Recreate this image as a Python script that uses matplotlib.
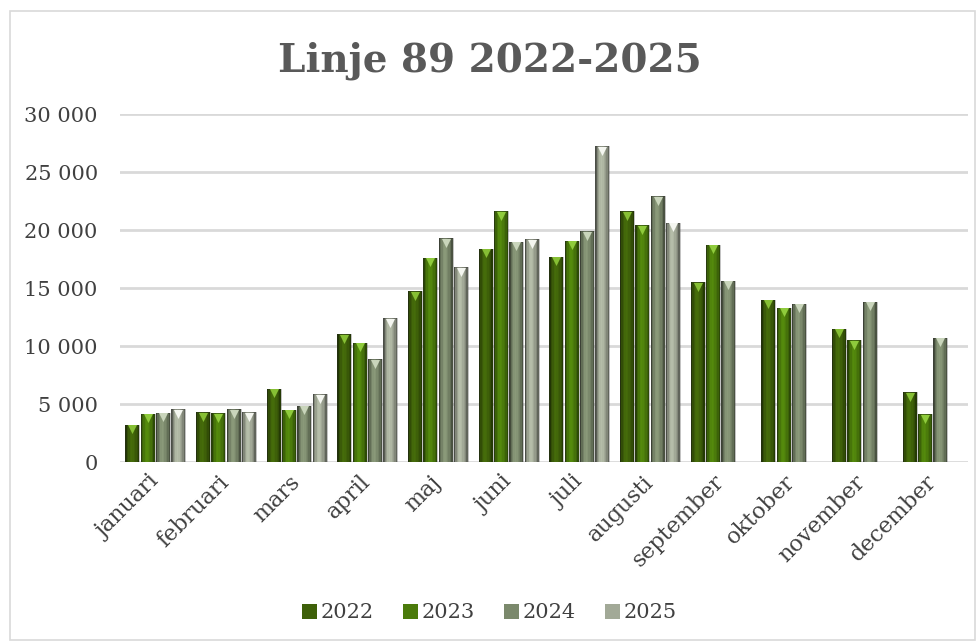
import matplotlib.pyplot as plt
import numpy as np
from matplotlib.patches import Patch, Rectangle
from matplotlib.ticker import FuncFormatter
import matplotlib.colors as mcolors

months = ['januari', 'februari', 'mars', 'april', 'maj', 'juni', 'juli',
          'augusti', 'september', 'oktober', 'november', 'december']
years = ['2022', '2023', '2024', '2025']

v2022 = [3200, 4300, 6300, 11000, 14700, 18400, 17700, 21600, 15500, 14000, 11500, 6000]
v2023 = [4150, 4200, 4500, 10300, 17600, 21600, 19050, 20400, 18700, 13300, 10500, 4100]
v2024 = [4250, 4550, 4850, 8850, 19300, 19000, 19900, 22900, 15600, 13650, 13800, 10700]
v2025 = [4550, 4300, 5850, 12400, 16800, 19200, 27200, 20600, np.nan, np.nan, np.nan, np.nan]
series = [v2022, v2023, v2024, v2025]

base_colors = ['#3e6009', '#4b7b0b', '#7b896c', '#a2a997']
tip_colors = ['#86bf34', '#8fcb3c', '#c9d5bb', '#f4f6f0']
text_col = '#404040'

plt.rcParams['font.family'] = ['DejaVu Serif']

fig = plt.figure(figsize=(9.79, 6.43), dpi=100)
fig.patches.append(Rectangle((10 / 979, 3 / 643), 965 / 979, 629 / 643, transform=fig.transFigure,
                             fill=False, edgecolor='#d9d9d9', linewidth=1.2))
ax = fig.add_axes([120 / 979, 1 - 462 / 643, 848 / 979, 348 / 643])

x = np.arange(len(months))
slot = 0.216
bw = 0.198
# shading profile across each bar, left to right
shade = [0.55, 0.8, 0.95, 1.08, 1.12, 1.08, 1.0, 0.92, 0.8, 0.6]
nstrip = len(shade)
for i, (vals, col) in enumerate(zip(series, base_colors)):
    vals = np.array(vals, dtype=float)
    xc = x + (i - 1.5) * slot
    rgb = np.array(mcolors.to_rgb(col))
    sw = bw / nstrip
    for k, f in enumerate(shade):
        c = np.clip(rgb * f, 0, 1)
        ax.bar(xc - bw / 2 + (k + 0.5) * sw, vals, width=sw * 1.02, color=c, linewidth=0, zorder=3)
    ax.bar(xc, vals, width=bw, fill=False, edgecolor='#2a2a2a', linewidth=0.4, alpha=0.5, zorder=4)
    ok = ~np.isnan(vals)
    ax.scatter(xc[ok], vals[ok] - 380, marker='v', s=42, color=tip_colors[i], linewidths=0, zorder=5)

ax.set_xlim(-0.5, 11.5)
ax.set_ylim(0, 30000)
ax.set_yticks(np.arange(0, 30001, 5000))
ax.yaxis.set_major_formatter(FuncFormatter(lambda v, p: f'{int(v):,}'.replace(',', ' ')))
ax.grid(axis='y', color='#d9d9d9', linewidth=2, zorder=0)
ax.set_axisbelow(True)
for s in ax.spines.values():
    s.set_visible(False)
ax.tick_params(axis='both', length=0, labelsize=15, labelcolor=text_col)
ax.tick_params(axis='y', pad=16)
ax.tick_params(axis='x', pad=12, labelsize=16)
ax.set_xticks(x)
ax.set_xticklabels(months, rotation=45, ha='right', va='center', rotation_mode='anchor')

fig.text(0.5, 0.905, 'Linje 89 2022-2025', ha='center', va='center', fontsize=28,
         fontweight='bold', color='#595959')

handles = [Patch(facecolor=c, edgecolor='none') for c in base_colors]
fig.legend(handles, years, loc='center', bbox_to_anchor=(0.5, 1 - 613 / 643), ncol=4,
           frameon=False, fontsize=15, handlelength=0.7, handleheight=0.7,
           handletextpad=0.2, columnspacing=1.4, labelcolor=text_col)

fig.savefig('out.png', dpi=100)
